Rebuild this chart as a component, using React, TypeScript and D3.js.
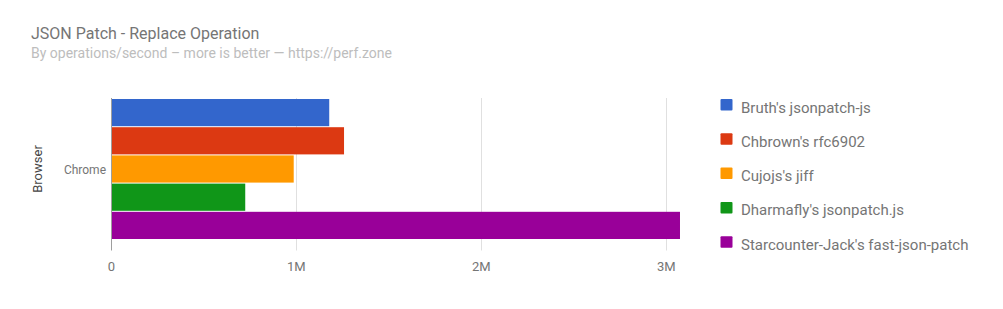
import React from "react";
import * as d3 from "d3";

const title = "JSON Patch - Replace Operation";
const subtitle = "By operations/second \u2013 more is better \u2014 https://perf.zone";
const categories = ["Chrome"];
const seriesNames = [
  "Bruth's jsonpatch-js",
  "Chbrown's rfc6902",
  "Cujojs's jiff",
  "Dharmafly's jsonpatch.js",
  "Starcounter-Jack's fast-json-patch",
];
const seriesValues = [1178000, 1258000, 986000, 724000, 3074000];
const seriesColors = ["#3366cc", "#dc3912", "#ff9900", "#109618", "#990099"];
const xTicks = [0, 1000000, 2000000, 3000000];
const xTickLabels = ["0", "1M", "2M", "3M"];
const yAxisTitle = "Browser";

const font = "Roboto, 'Noto Sans', Arial, sans-serif";

export default function App() {
  const x = d3.scaleLinear().domain([0, 3000000]).range([111.3, 666.3]);
  const chartTop = 98;
  const chartBottom = 250.5;
  const yCat = d3.scaleBand().domain(categories).range([99, 239]);
  const ySer = d3
    .scaleBand()
    .domain(seriesNames)
    .range([0, yCat.bandwidth()])
    .paddingInner(1 / 28);
  const legendY = d3.scaleLinear().domain([0, 1]).range([99, 133.3]);

  return (
    <svg
      width={1003}
      height={309}
      style={{ position: "absolute", left: 0, top: 0, fontFamily: font }}
    >
      <rect width={1003} height={309} fill="#fff" />
      <text x={31} y={39} fontSize={16} fill="#757575">
        {title}
      </text>
      <text x={31} y={58} fontSize={14} fill="#bdbdbd">
        {subtitle}
      </text>
      {xTicks.map((t, i) =>
        i === 0 ? null : (
          <line
            key={"g" + i}
            x1={Math.round(x(t)) + 0.5}
            x2={Math.round(x(t)) + 0.5}
            y1={chartTop}
            y2={chartBottom}
            stroke="#e0e0e0"
          />
        )
      )}
      {categories.map((c) =>
        seriesNames.map((s, i) => {
          const y0 = (yCat(c) as number) + (ySer(s) as number);
          return (
            <rect
              key={c + s}
              x={x(0)}
              y={y0}
              width={x(seriesValues[i]) - x(0)}
              height={ySer.bandwidth()}
              fill={seriesColors[i]}
            />
          );
        })
      )}
      <line
        x1={Math.round(x(0)) + 0.5}
        x2={Math.round(x(0)) + 0.5}
        y1={chartTop}
        y2={chartBottom}
        stroke="#9e9e9e"
      />
      {xTicks.map((t, i) => (
        <text
          key={"t" + i}
          x={x(t)}
          y={270.5}
          fontSize={13}
          fill="#757575"
          textAnchor="middle"
        >
          {xTickLabels[i]}
        </text>
      ))}
      {categories.map((c) => (
        <text
          key={"c" + c}
          x={106}
          y={(yCat(c) as number) + yCat.bandwidth() / 2 + 4.5}
          fontSize={12}
          fill="#757575"
          textAnchor="end"
        >
          {c}
        </text>
      ))}
      <text
        transform={`translate(42,169) rotate(-90)`}
        fontSize={13}
        fill="#444"
        textAnchor="middle"
      >
        {yAxisTitle}
      </text>
      {seriesNames.map((s, i) => (
        <g key={"l" + s}>
          <rect
            x={720.5}
            y={legendY(i)}
            width={12}
            height={11.5}
            rx={1}
            fill={seriesColors[i]}
          />
          <text x={741} y={legendY(i) + 13.5} fontSize={15} fill="#757575">
            {s}
          </text>
        </g>
      ))}
    </svg>
  );
}
